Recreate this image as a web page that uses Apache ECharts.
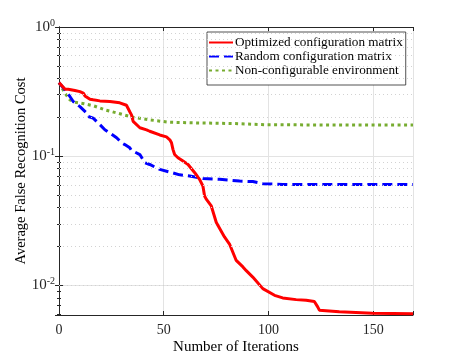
<!DOCTYPE html>
<html>
<head>
<meta charset="utf-8">
<script src="https://cdn.jsdelivr.net/npm/echarts@6/dist/echarts.min.js"></script>
<style>
  html, body { margin: 0; padding: 0; background: #fff; }
  #main { width: 457px; height: 356px; }
</style>
</head>
<body>
<div id="main"></div>
<script>
// values
let names = ['Optimized configuration matrix', 'Random configuration matrix', 'Non-configurable environment'];

let optIter = [0, 2.9, 4.4, 7.6, 10, 11.6, 12.4, 14.8, 16.3, 19.5, 24.3, 29, 32.2, 33.8, 34.6, 35.4, 38.6, 41.8, 43.3, 48.1, 51.3, 52.9, 53.7, 54.4, 55.2, 56.8, 59.2, 61.6, 62.4, 64.8, 67.1, 68.7, 69.5, 70.3, 72.7, 75.1, 79, 81.4, 82.2, 84.6, 85.4, 87.8, 89.4, 92.5, 93.3, 97.3, 102.9, 106.8, 113.2, 118, 121.9, 123.5, 124.3, 130.6, 133.8, 149.7, 169];
let optCost = [0.371, 0.330, 0.330, 0.322, 0.316, 0.308, 0.293, 0.276, 0.273, 0.268, 0.265, 0.259, 0.248, 0.221, 0.209, 0.186, 0.166, 0.160, 0.156, 0.146, 0.141, 0.134, 0.127, 0.113, 0.103, 0.0972, 0.0916, 0.0863, 0.0838, 0.0745, 0.0662, 0.0588, 0.0492, 0.0465, 0.0412, 0.0307, 0.0237, 0.0209, 0.0203, 0.0156, 0.0151, 0.0139, 0.0130, 0.0116, 0.0113, 0.00944, 0.00838, 0.0080, 0.00776, 0.00767, 0.0075, 0.00682, 0.00643, 0.00631, 0.00624, 0.00609, 0.00603];

let rndIter = [0, 2.9, 5.2, 6.8, 7.6, 10, 10.8, 13.2, 14, 16.3, 18.7, 21.9, 24.3, 27.5, 29.9, 31.4, 33.8, 34.6, 38.6, 39.4, 41, 43.3, 48.1, 52.9, 57.6, 62.4, 68.7, 76.7, 86.2, 92.5, 97.3, 106.8, 169];
let rndCost = [0.371, 0.325, 0.290, 0.265, 0.258, 0.242, 0.236, 0.216, 0.203, 0.197, 0.181, 0.160, 0.151, 0.139, 0.127, 0.123, 0.116, 0.111, 0.103, 0.100, 0.089, 0.0863, 0.079, 0.0753, 0.0717, 0.0702, 0.0671, 0.0662, 0.0642, 0.0636, 0.0613, 0.0605, 0.0603];

let envIter = [0, 2.9, 5.2, 7.6, 11.9, 16.7, 22.4, 28.1, 35.5, 43.3, 52.9, 66, 82.9, 98.9, 169];
let envCost = [0.371, 0.307, 0.273, 0.262, 0.255, 0.245, 0.227, 0.215, 0.200, 0.191, 0.183, 0.181, 0.179, 0.175, 0.174];

let xTicks = [0, 50, 100, 150];
let minorGrid = [0.006, 0.007, 0.008, 0.009, 0.02, 0.03, 0.04, 0.05, 0.06, 0.07, 0.08, 0.09, 0.2, 0.3, 0.4, 0.5, 0.6, 0.7, 0.8, 0.9];

function pairs(xs, ys) {
    return xs.map(function (x, i) { return [x, ys[i]]; });
}

let axisColor = '#262626';
let font = 'Liberation Serif';
let yMin = 0.0059, yMax = 1, xMax = 169;

let myChart = echarts.init(document.getElementById('main'), null, { renderer: 'canvas' });

let option = {
    animation: false,
    backgroundColor: '#fff',
    textStyle: { fontFamily: font },
    grid: { left: 59, right: 44, top: 27, bottom: 41, containLabel: false, outerBoundsMode: 'none' },
    legend: {
        data: names,
        orient: 'vertical',
        left: 207,
        top: 32,
        padding: [4, 3, 8, 1],
        itemGap: 1,
        itemWidth: 24,
        itemHeight: 15,
        backgroundColor: '#fff',
        borderColor: axisColor,
        borderWidth: 0.8,
        borderRadius: 0,
        itemStyle: { opacity: 0 },
        textStyle: { fontFamily: font, fontSize: 13.2, color: '#000', padding: [0, 0, 0, -3] }
    },
    xAxis: [{
        type: 'value',
        min: 0, max: xMax, interval: 50,
        name: 'Number of Iterations',
        nameLocation: 'middle',
        nameGap: 25,
        nameMoveOverlap: false,
        nameTextStyle: { fontFamily: font, fontSize: 15, color: '#000', verticalAlign: 'top' },
        axisLine: { lineStyle: { color: axisColor, width: 1 } },
        axisTick: { inside: true, length: 4, lineStyle: { color: axisColor } },
        axisLabel: {
            fontFamily: font, fontSize: 14, color: axisColor, margin: 8,
            formatter: function (v) { return xTicks.indexOf(v) >= 0 ? String(v) : ''; }
        },
        splitLine: { show: true, lineStyle: { color: '#e3e3e3', width: 1 } }
    }, {
        type: 'value', position: 'top',
        min: 0, max: xMax, interval: 50,
        axisLine: { show: true, lineStyle: { color: axisColor, width: 1 } },
        axisTick: { show: true, inside: true, length: 4, lineStyle: { color: axisColor } },
        axisLabel: { show: false },
        splitLine: { show: false }
    }],
    yAxis: [{
        type: 'log',
        logBase: 10,
        min: yMin, max: yMax,
        name: 'Average False Recognition Cost',
        nameLocation: 'middle',
        nameGap: 30,
        nameMoveOverlap: false,
        nameTextStyle: { fontFamily: font, fontSize: 14.5, color: '#000' },
        axisLine: { show: true, lineStyle: { color: axisColor, width: 1 } },
        axisTick: { inside: true, length: 4, lineStyle: { color: axisColor } },
        minorTick: { show: true, splitNumber: 9, length: 2, lineStyle: { color: axisColor } },
        axisLabel: {
            margin: 4,
            formatter: function (v) {
                let e = Math.log10(v);
                if (Math.abs(e - Math.round(e)) > 1e-6) return '';
                return '{b|10}{s|' + Math.round(e) + '}';
            },
            rich: {
                b: { fontFamily: font, fontSize: 15, color: axisColor, lineHeight: 18 },
                s: { fontFamily: font, fontSize: 10, color: axisColor, verticalAlign: 'top', lineHeight: 18 }
            }
        },
        splitLine: { show: true, lineStyle: { color: '#e3e3e3', width: 1 } }
    }, {
        type: 'log',
        logBase: 10,
        min: yMin, max: yMax,
        position: 'right',
        axisLine: { show: true, lineStyle: { color: axisColor, width: 1 } },
        axisTick: { show: true, inside: true, length: 4, lineStyle: { color: axisColor } },
        minorTick: { show: true, splitNumber: 9, length: 2, lineStyle: { color: axisColor } },
        axisLabel: { show: false },
        splitLine: { show: false }
    }],
    series: [{
        name: 'minor grid',
        type: 'line',
        data: [],
        silent: true,
        z: 1,
        markLine: {
            silent: true,
            symbol: 'none',
            animation: false,
            label: { show: false },
            lineStyle: { color: '#d2d2d2', width: 1, type: [1, 3] },
            data: minorGrid.map(function (v) { return { yAxis: v }; })
        }
    }, {
        name: names[0],
        type: 'line',
        data: pairs(optIter, optCost),
        showSymbol: false,
        symbol: 'none',
        z: 4,
        color: '#ff0000',
        lineStyle: { color: '#ff0000', width: 3 }
    }, {
        name: names[1],
        type: 'line',
        data: pairs(rndIter, rndCost),
        showSymbol: false,
        symbol: 'none',
        z: 3,
        color: '#0000ff',
        lineStyle: { color: '#0000ff', width: 3, type: [10, 5] }
    }, {
        name: names[2],
        type: 'line',
        data: pairs(envIter, envCost),
        showSymbol: false,
        symbol: 'none',
        z: 2,
        color: '#77ac30',
        lineStyle: { color: '#77ac30', width: 3, type: [3, 3.5] }
    }]
};
myChart.setOption(option);
</script>
</body>
</html>
